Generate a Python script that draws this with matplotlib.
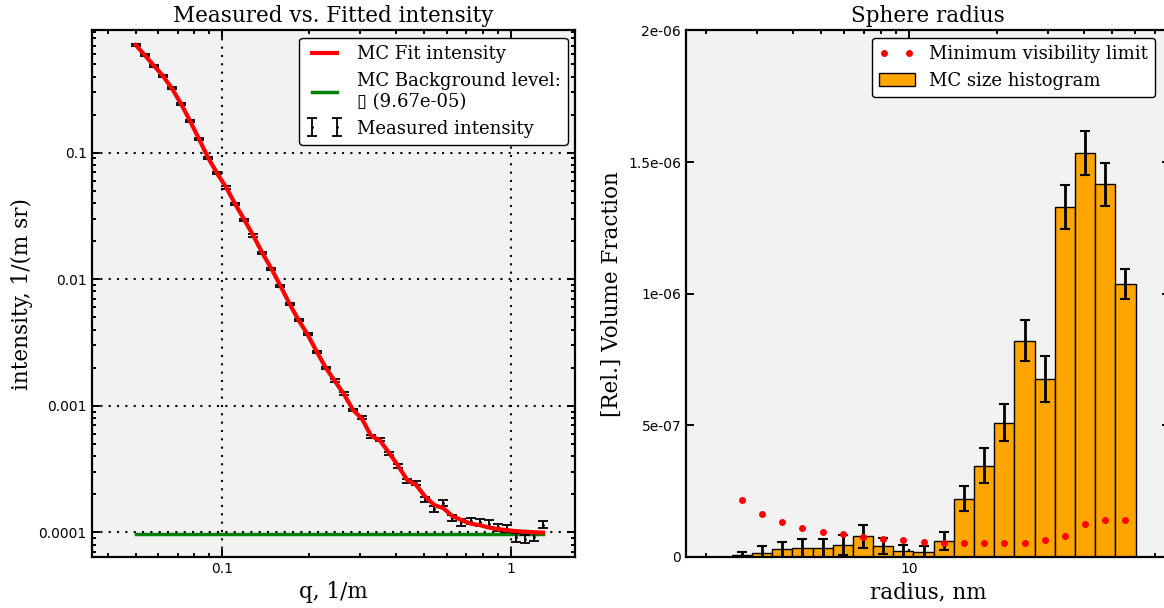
"""Recreate the MC fit figure: measured vs fitted intensity and sphere radius histogram."""

import matplotlib
matplotlib.use("Agg")
import matplotlib.pyplot as plt
from matplotlib.ticker import FixedLocator, FixedFormatter, LogLocator, NullFormatter

plt.rcParams["font.family"] = ["DejaVu Serif", "DejaVu Sans"]

# ---- left panel: measured intensity and MC fit ----
q = [0.0501, 0.05385, 0.05789, 0.06222, 0.06688, 0.07189, 0.07728, 0.08307,
     0.08929, 0.09598, 0.1032, 0.1109, 0.1192, 0.1281, 0.1377, 0.1480,
     0.1591, 0.1710, 0.1838, 0.1976, 0.2124, 0.2283, 0.2454, 0.2638,
     0.2836, 0.3048, 0.3277, 0.3522, 0.3786, 0.4070, 0.4375, 0.4702,
     0.5055, 0.5433, 0.5840, 0.6278, 0.6748, 0.7254, 0.7797, 0.8381,
     0.9009, 0.9684, 1.041, 1.119, 1.203, 1.293]
intensity = [0.710, 0.592, 0.488, 0.406, 0.323, 0.243, 0.179, 0.128,
             0.0913, 0.0687, 0.0532, 0.0391, 0.0294, 0.0222, 0.0160, 0.0121,
             0.00889, 0.00637, 0.00476, 0.00367, 0.00266, 0.00199, 0.00158, 0.00125,
             0.000925, 0.000810, 0.000569, 0.000542, 0.000418, 0.000332, 0.000253, 0.000246,
             0.000182, 0.000152, 0.000171, 0.000130, 0.000120, 0.000123, 0.000120, 0.000117,
             0.000110, 0.000107, 9.1e-05, 8.9e-05, 9.2e-05, 0.000115]
intensity_err = [0.0142, 0.0118, 0.0098, 0.0081, 0.0065, 0.0049, 0.0036, 0.0026,
                 0.0018, 0.0014, 0.0011, 0.00078, 0.00059, 0.00045, 0.00032, 0.00024,
                 0.00018, 0.00013, 9.6e-05, 7.8e-05, 5.8e-05, 4.5e-05, 3.7e-05, 3.0e-05,
                 2.4e-05, 2.1e-05, 1.6e-05, 1.6e-05, 1.3e-05, 1.2e-05, 1.0e-05, 1.0e-05,
                 8.6e-06, 8.0e-06, 8.4e-06, 7.6e-06, 7.4e-06, 7.4e-06, 7.4e-06, 7.3e-06,
                 7.2e-06, 7.1e-06, 6.8e-06, 6.8e-06, 6.8e-06, 7.3e-06]
fit_intensity = [0.710, 0.590, 0.488, 0.405, 0.322, 0.244, 0.178, 0.128,
                 0.0910, 0.0685, 0.0530, 0.0392, 0.0295, 0.0221, 0.0161, 0.0121,
                 0.00885, 0.00640, 0.00475, 0.00365, 0.00268, 0.00200, 0.00157, 0.00124,
                 0.000930, 0.000790, 0.000580, 0.000530, 0.000425, 0.000335, 0.000259, 0.000236,
                 0.000191, 0.000164, 0.000155, 0.000134, 0.000125, 0.000117, 0.000114, 0.000109,
                 0.000106, 0.000104, 0.000102, 0.000101, 0.000100, 9.93e-05]
background = 9.67e-05

# ---- right panel: size histogram ----
radius_edges = [2.46, 2.886, 3.386, 3.972, 4.66, 5.467, 6.414, 7.525, 8.828, 10.357, 12.151,
                14.256, 16.725, 19.622, 23.02, 27.01, 31.69, 37.18, 43.62, 51.17, 60.03]
volume_fraction = [5e-09, 1.5e-08, 2.8e-08, 3.4e-08, 3.4e-08, 4.4e-08, 7.7e-08, 4.2e-08,
                   2.0e-08, 1.6e-08, 6.1e-08, 2.21e-07, 3.46e-07, 5.09e-07, 8.21e-07, 6.76e-07,
                   1.329e-06, 1.533e-06, 1.416e-06, 1.037e-06]
volume_fraction_err = [1.4e-08, 2.4e-08, 2.9e-08, 3.4e-08, 3.4e-08, 3.7e-08, 4.4e-08, 3.0e-08,
                       2.5e-08, 2.5e-08, 3.4e-08, 4.7e-08, 6.7e-08, 7.1e-08, 7.7e-08, 8.7e-08,
                       8.5e-08, 8.4e-08, 8.2e-08, 5.7e-08]
min_visibility = [2.14e-07, 1.63e-07, 1.30e-07, 1.08e-07, 9.4e-08, 8.5e-08, 7.3e-08, 6.8e-08,
                  6.2e-08, 5.6e-08, 5.3e-08, 5.1e-08, 5.2e-08, 5.2e-08, 5.3e-08, 6.3e-08,
                  8.0e-08, 1.24e-07, 1.39e-07, 1.39e-07]

left_xticks = [0.1, 1.0]
left_xticklabels = ["0.1", "1"]
left_yticks = [1e-4, 1e-3, 1e-2, 1e-1]
left_yticklabels = ["0.0001", "0.001", "0.01", "0.1"]
right_xticks = [10.0]
right_xticklabels = ["10"]
right_yticks = [0.0, 5e-07, 1e-06, 1.5e-06, 2e-06]
right_yticklabels = ["0", "5e-07", "1e-06", "1.5e-06", "2e-06"]

BG = "#f2f2f2"
TICKFONT = {"family": "DejaVu Sans", "size": 10}
TITLE_SIZE = 15.5
LABEL_SIZE = 15.5
LEGEND_SIZE = 13


def style_axes(ax):
    ax.set_facecolor(BG)
    for sp in ax.spines.values():
        sp.set_linewidth(1.6)
    ax.tick_params(which="both", direction="in", top=True, right=True, width=1.4)
    ax.tick_params(which="major", length=6)
    ax.tick_params(which="minor", length=3)


fig = plt.figure(figsize=(11.64, 6.08), dpi=100)
ax1 = fig.add_axes([0.0788, 0.0844, 0.4152, 0.8655])
ax2 = fig.add_axes([0.5893, 0.0844, 0.4158, 0.8655])

# left
style_axes(ax1)
ax1.set_xscale("log")
ax1.set_yscale("log")
ax1.errorbar(q, intensity, yerr=intensity_err, fmt="k.", markersize=2, ecolor="k",
             elinewidth=1.3, capsize=3.6, capthick=1.3, label="Measured intensity", zorder=3)
ax1.plot(q, fit_intensity, color="red", linewidth=3, label="MC Fit intensity", zorder=4)
ax1.plot([q[0], q[-1]], [background, background], color="green", linewidth=2.5,
         label="MC Background level:\n\u25af (9.67e-05)", zorder=2)
ax1.set_xlim(0.03525, 1.671)
ax1.set_ylim(6.41e-05, 0.925)
ax1.xaxis.set_major_locator(FixedLocator(left_xticks))
ax1.xaxis.set_major_formatter(FixedFormatter(left_xticklabels))
ax1.yaxis.set_major_locator(FixedLocator(left_yticks))
ax1.yaxis.set_major_formatter(FixedFormatter(left_yticklabels))
ax1.xaxis.set_minor_locator(LogLocator(base=10, subs=range(2, 10)))
ax1.yaxis.set_minor_locator(LogLocator(base=10, subs=range(2, 10)))
ax1.xaxis.set_minor_formatter(NullFormatter())
ax1.yaxis.set_minor_formatter(NullFormatter())
for lab in ax1.get_xticklabels() + ax1.get_yticklabels():
    lab.set_fontproperties(TICKFONT)
ax1.grid(True, which="major", color="black", linestyle=(0, (1, 3)), linewidth=1.5)
ax1.set_axisbelow(False)
ax1.set_title("Measured vs. Fitted intensity", fontsize=TITLE_SIZE)
ax1.set_xlabel("q, 1/m", fontsize=LABEL_SIZE)
ax1.set_ylabel("intensity, 1/(m sr)", fontsize=LABEL_SIZE)
handles, labels = ax1.get_legend_handles_labels()
order = [labels.index("MC Fit intensity"), labels.index("MC Background level:\n\u25af (9.67e-05)"),
         labels.index("Measured intensity")]
leg1 = ax1.legend([handles[i] for i in order], [labels[i] for i in order], loc="upper right",
                  numpoints=2, fontsize=LEGEND_SIZE, fancybox=True, framealpha=1,
                  edgecolor="black", borderaxespad=0.4)
leg1.get_frame().set_linewidth(1.0)

# right
style_axes(ax2)
ax2.set_xscale("log")
lefts = radius_edges[:-1]
widths = [b - a for a, b in zip(radius_edges[:-1], radius_edges[1:])]
centers = [(a * b) ** 0.5 for a, b in zip(radius_edges[:-1], radius_edges[1:])]
ax2.bar(lefts, volume_fraction, width=widths, align="edge", color="orange",
        edgecolor="black", linewidth=1.0, label="MC size histogram", zorder=2)
ax2.errorbar(centers, volume_fraction, yerr=volume_fraction_err, fmt="none", ecolor="black",
             elinewidth=2, capsize=3.6, capthick=1.5, zorder=3)
ax2.plot(centers, min_visibility, linestyle="none", marker="o", markersize=5,
         color="red", markeredgewidth=0, label="Minimum visibility limit", zorder=4)
ax2.set_xlim(1.712, 78.8)
ax2.set_ylim(0, 2e-06)
ax2.xaxis.set_major_locator(FixedLocator(right_xticks))
ax2.xaxis.set_major_formatter(FixedFormatter(right_xticklabels))
ax2.xaxis.set_minor_locator(LogLocator(base=10, subs=range(2, 10)))
ax2.xaxis.set_minor_formatter(NullFormatter())
ax2.yaxis.set_major_locator(FixedLocator(right_yticks))
ax2.yaxis.set_major_formatter(FixedFormatter(right_yticklabels))
for lab in ax2.get_xticklabels() + ax2.get_yticklabels():
    lab.set_fontproperties(TICKFONT)
ax2.set_title("Sphere radius", fontsize=TITLE_SIZE)
ax2.set_xlabel("radius, nm", fontsize=LABEL_SIZE)
ax2.set_ylabel("[Rel.] Volume Fraction", fontsize=LABEL_SIZE)
h2, l2 = ax2.get_legend_handles_labels()
order2 = [l2.index("Minimum visibility limit"), l2.index("MC size histogram")]
leg2 = ax2.legend([h2[i] for i in order2], [l2[i] for i in order2], loc="upper right",
                  numpoints=2, fontsize=LEGEND_SIZE, fancybox=True, framealpha=1,
                  edgecolor="black", bbox_to_anchor=(0.985, 1.0), borderaxespad=0.4)
leg2.get_frame().set_linewidth(1.0)

fig.savefig("out.png", dpi=100)
